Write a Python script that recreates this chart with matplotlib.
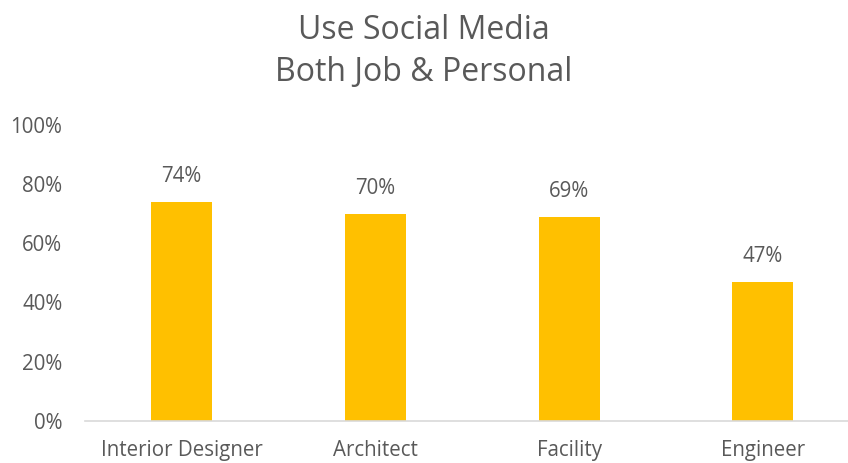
import matplotlib.pyplot as plt

categories = ["Interior Designer", "Architect", "Facility", "Engineer"]
values = [0.74, 0.70, 0.69, 0.47]
yticks = [0, 0.2, 0.4, 0.6, 0.8, 1.0]

plt.rcParams['font.family'] = ['Open Sans', 'DejaVu Sans']
text_color = "#595959"

fig = plt.figure(figsize=(8.48, 4.63), dpi=100)
ax = fig.add_axes([0.0998, 0.0914, 0.914, 0.6387])

x = range(len(categories))
bars = ax.bar(x, values, width=0.315, color="#FFC000", zorder=2)

for xi, v in zip(x, values):
    ax.text(xi, v + 0.05, f"{round(v * 100)}%", ha="center", va="bottom",
            fontsize=14.8, color=text_color)

ax.set_xlim(-0.5, len(categories) - 0.5)
ax.set_ylim(0, 1.0)
ax.set_yticks(yticks)
ax.set_yticklabels([f"{int(t * 100)}%" for t in yticks])
ax.set_xticks(list(x))
ax.set_xticklabels(categories)
ax.tick_params(axis="both", length=0, labelsize=14.8, colors=text_color)
ax.tick_params(axis="y", pad=16)
ax.tick_params(axis="x", pad=14)

for side in ["top", "right", "left"]:
    ax.spines[side].set_visible(False)
ax.spines["bottom"].set_color("#D9D9D9")
ax.spines["bottom"].set_linewidth(1.2)

fig.text(0.5, 0.888, "Use Social Media\nBoth Job & Personal", ha="center", va="center",
         fontsize=23, color=text_color, linespacing=1.36)

fig.savefig("out.png", dpi=100)
